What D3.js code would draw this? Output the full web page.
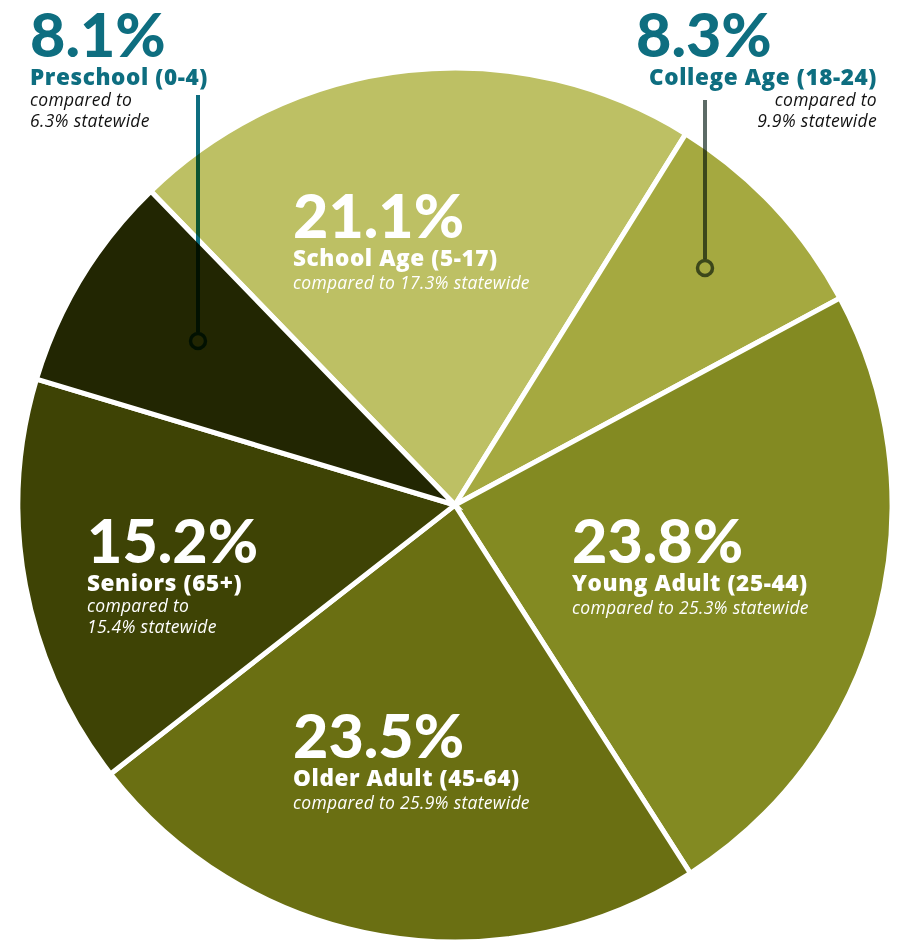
<!DOCTYPE html>
<html>
<head>
<meta charset="utf-8">
<script src="https://cdn.jsdelivr.net/npm/d3@7"></script>
<style>
  body { margin: 0; background: #fff; }
  svg { display: block; }
  text { font-family: Lato, "Open Sans", sans-serif; }
  .grp { font-family: "Open Sans", Lato, sans-serif; }
  .cmp { font-family: "Open Sans", Lato, sans-serif; }
</style>
</head>
<body>
<svg id="chart"></svg>
<script>
// age groups, clockwise starting at school age
const groups = ["School Age (5-17)", "College Age (18-24)", "Young Adult (25-44)", "Older Adult (45-64)", "Seniors (65+)", "Preschool (0-4)"];
const shares = [21.1, 8.3, 23.8, 23.5, 15.2, 8.1];
const statewide = [17.3, 9.9, 25.3, 25.9, 15.4, 6.3];
const colors = ["#bdc064", "#a5a940", "#838a22", "#6a6f12", "#3e4305", "#222602"];

var svgWidth = 897, svgHeight = 943;
var cx = 455, cy = 505, radius = 437;
var teal = "#0e6e80";

// where each label block sits (x, baseline of the big number, anchor, wrap compare text)
var layout = [
    { x: 293, y: 238, anchor: "start", wrap: false, color: "#fff" },
    { x: 877, y: 57, anchor: "end", wrap: true, color: teal, outside: true, bigX: 636 },
    { x: 572, y: 563, anchor: "start", wrap: false, color: "#fff" },
    { x: 293, y: 758, anchor: "start", wrap: false, color: "#fff" },
    { x: 87, y: 563, anchor: "start", wrap: true, color: "#fff" },
    { x: 30, y: 57, anchor: "start", wrap: true, color: teal, outside: true }
];

var svg = d3.select("#chart")
    .attr("width", svgWidth)
    .attr("height", svgHeight);

var pie = d3.pie()
    .sort(null)
    .value(function (d) { return d; })
    .startAngle(-44.1 * Math.PI / 180)
    .endAngle(-44.1 * Math.PI / 180 + 2 * Math.PI);

var arc = d3.arc().innerRadius(0).outerRadius(radius);

var g = svg.append("g")
    .attr("transform", "translate(" + cx + "," + cy + ")");

g.selectAll("path")
    .data(pie(shares))
    .enter()
    .append("path")
    .attr("d", arc)
    .attr("fill", function (d, i) { return colors[i]; })
    .attr("stroke", "#fff")
    .attr("stroke-width", 5)
    .attr("stroke-linejoin", "miter");

// leader lines for the two small slices
var leaders = [
    { x: 198, y1: 95, y2: 341, color: "#0e6e80" },
    { x: 705, y1: 100, y2: 268, color: "#5c6b66" }
];

leaders.forEach(function (l) {
    svg.append("line")
        .attr("x1", l.x).attr("x2", l.x)
        .attr("y1", l.y1).attr("y2", l.y2 - 9)
        .attr("stroke", l.color)
        .attr("stroke-width", 4)
        .style("mix-blend-mode", "multiply");
    svg.append("circle")
        .attr("cx", l.x).attr("cy", l.y2)
        .attr("r", 7.5)
        .attr("fill", "none")
        .attr("stroke", l.color)
        .attr("stroke-width", 3.5)
        .style("mix-blend-mode", "multiply");
});

// labels
shares.forEach(function (v, i) {
    var L = layout[i];
    var t = svg.append("g");
    var bigX = L.bigX !== undefined ? L.bigX : L.x;

    t.append("text")
        .attr("x", bigX)
        .attr("y", L.y)
        .attr("fill", L.color)
        .attr("font-size", 61)
        .attr("font-weight", 900)
        .attr("text-anchor", L.bigX !== undefined ? "start" : L.anchor)
        .text(v + "%");

    t.append("text")
        .attr("class", "grp")
        .attr("x", L.x)
        .attr("y", L.y + 28)
        .attr("fill", L.color)
        .attr("font-size", 22.5)
        .attr("font-weight", 800)
        .attr("letter-spacing", 0.6)
        .attr("text-anchor", L.anchor)
        .text(groups[i]);

    var sub = L.outside ? "#111" : "#fff";
    var lines = L.wrap
        ? ["compared to", statewide[i] + "% statewide"]
        : ["compared to " + statewide[i] + "% statewide"];
    lines.forEach(function (s, k) {
        t.append("text")
            .attr("class", "cmp")
            .attr("x", L.x).attr("y", L.y + (L.wrap ? 49 + k * 21 : 51))
            .attr("fill", sub).attr("font-size", 17.5)
            .attr("font-style", "italic").attr("font-weight", 400)
            .attr("letter-spacing", 0.3)
            .attr("text-anchor", L.anchor)
            .text(s);
    });
});
</script>
</body>
</html>
